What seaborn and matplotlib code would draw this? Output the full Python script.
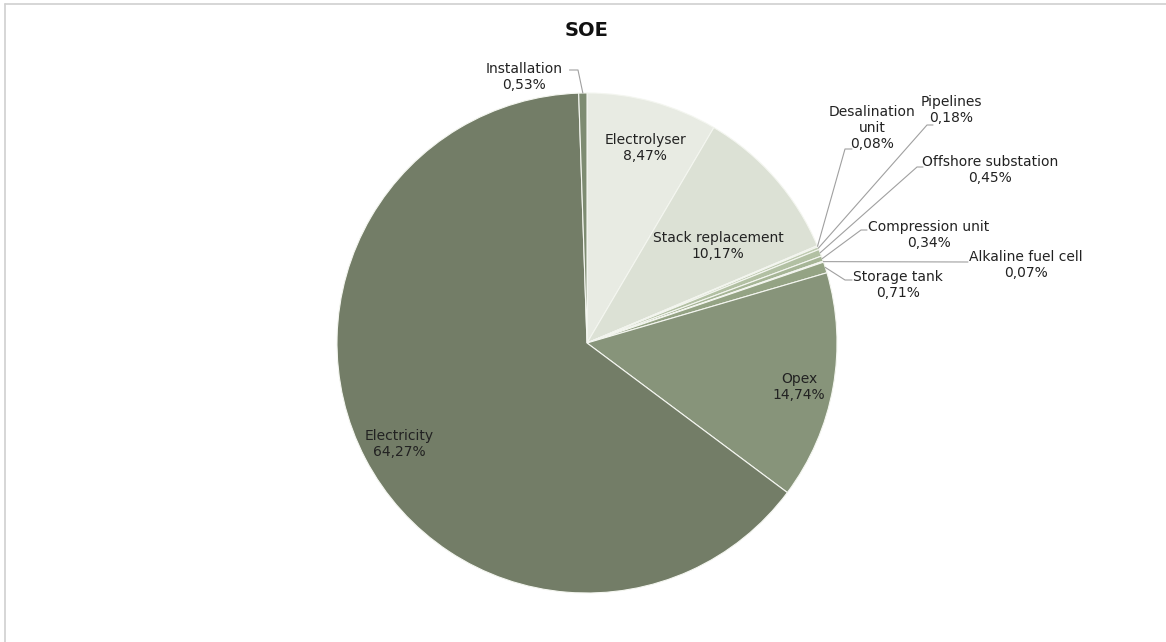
import matplotlib
matplotlib.use("Agg")
import matplotlib.pyplot as plt
import numpy as np
import seaborn as sns
from matplotlib.lines import Line2D

sns.set_theme(style="white")
plt.rcParams['font.family'] = ['DejaVu Sans']

# ---- data ----
categories = ["Electrolyser", "Stack replacement", "Desalination\nunit", "Pipelines",
              "Offshore substation", "Compression unit", "Alkaline fuel cell",
              "Storage tank", "Opex", "Electricity", "Installation"]
values = [8.47, 10.17, 0.08, 0.18, 0.45, 0.34, 0.07, 0.71, 14.74, 64.27, 0.53]
value_labels = ["8,47%", "10,17%", "0,08%", "0,18%", "0,45%", "0,34%", "0,07%",
                "0,71%", "14,74%", "64,27%", "0,53%"]
colors = ["#e8ebe3", "#dce1d5", "#cdd7c2", "#bfcbb1", "#b2c0a3", "#a6b596",
          "#9cac8c", "#94a384", "#87947a", "#737d67", "#7e8c72"]

# label layout (pie data units, radius = 1)
inside = {"Electrolyser": (0.232, 0.78), "Stack replacement": (0.524, 0.388),
          "Opex": (0.848, -0.176), "Electricity": (-0.752, -0.404)}
# outside labels: text centre, elbow point, horizontal end
outside = {
    "Installation": ((-0.252, 1.064), (-0.036, 1.092), (-0.07, 1.092)),
    "Desalination\nunit": ((1.14, 0.86), (1.032, 0.776), (1.06, 0.776)),
    "Pipelines": ((1.456, 0.932), (1.36, 0.872), (1.384, 0.872)),
    "Offshore substation": ((1.612, 0.692), (1.32, 0.704), (1.344, 0.704)),
    "Compression unit": ((1.368, 0.432), (1.096, 0.452), (1.12, 0.452)),
    "Alkaline fuel cell": ((1.756, 0.312), (1.524, 0.324), (1.524, 0.324)),
    "Storage tank": ((1.244, 0.232), (1.032, 0.252), (1.06, 0.252)),
}

fig = plt.figure(figsize=(11.66, 6.42), dpi=100)
# frame lines
fig.add_artist(Line2D([5/1166, 5/1166], [0, 1 - 4/642], color="#d0d0d0", lw=1.2,
                      transform=fig.transFigure))
fig.add_artist(Line2D([5/1166, 1], [1 - 4/642, 1 - 4/642], color="#d0d0d0", lw=1.2,
                      transform=fig.transFigure))

cx, cy, r = 587, 343, 250
ax = fig.add_axes([(cx - r) / 1166, (642 - cy - r) / 642, 2 * r / 1166, 2 * r / 642])
wedges, _ = ax.pie(values, colors=colors, startangle=90, counterclock=False,
                   radius=1, wedgeprops=dict(edgecolor="#f4f6f0", linewidth=0.8))
ax.set_xlim(-1, 1)
ax.set_ylim(-1, 1)
ax.set_aspect("equal")
ax.axis("off")

for w, cat, vl in zip(wedges, categories, value_labels):
    txt = f"{cat}\n{vl}"
    if cat in inside:
        x, y = inside[cat]
        ax.text(x, y, txt, ha="center", va="center", fontsize=10, color="#222222",
                linespacing=1.2)
    else:
        (tx, ty), (ex, ey), (hx, hy) = outside[cat]
        ang = np.deg2rad((w.theta1 + w.theta2) / 2)
        px, py = np.cos(ang), np.sin(ang)
        ax.text(tx, ty, txt, ha="center", va="center", fontsize=10, color="#222222",
                linespacing=1.2, clip_on=False)
        ax.plot([px, ex, hx], [py, ey, hy], color="#a0a0a0", lw=0.8, clip_on=False)

fig.text(cx / 1166, 1 - 30 / 642, "SOE", ha="center", va="center",
         fontsize=14, fontweight="bold", color="#111111")

fig.savefig("out.png", dpi=100, facecolor="white")
